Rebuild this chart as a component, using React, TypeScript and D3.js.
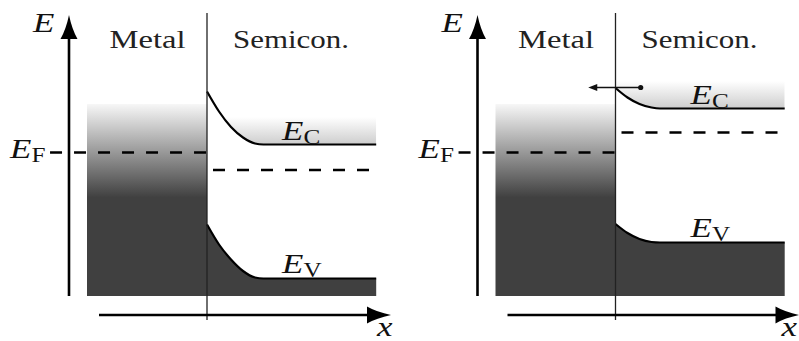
import React from "react";
import * as d3 from "d3";

const W = 799;
const H = 341;

// Text
const regionNames = ["Metal", "Semicon."];
const energySymbol = "E";
const positionSymbol = "x";
const fermiLabel = ["E", "F"];
const conductionLabel = ["E", "C"];
const valenceLabel = ["E", "V"];

// Energies in eV relative to the metal Fermi level; positions in units of the metal width.
const metalFermi = 0;
const metalTop = 0.97;
const metalDarkFrom = -0.9;
const bandFloor = -2.87;
const semiconEnd = 1.41;
const conductionGlow = 0.55;

// Left diagram: strong upward band bending
const ecLeft: [number, number][] = [
  [0, 1.22], [0.1, 0.82], [0.2, 0.51], [0.3, 0.3], [0.4, 0.18], [0.47, 0.16], [1.41, 0.16],
];
const evLeft: [number, number][] = [
  [0, -1.44], [0.1, -1.84], [0.2, -2.14], [0.3, -2.37], [0.4, -2.5], [0.47, -2.52], [1.41, -2.52],
];
const efSemiLeft = -0.35;

// Right diagram: weak band bending, electron crossing into the metal
const ecRight: [number, number][] = [
  [0, 1.29], [0.1, 1.1], [0.2, 0.97], [0.3, 0.9], [0.37, 0.88], [1.41, 0.88],
];
const evRight: [number, number][] = [
  [0, -1.43], [0.1, -1.61], [0.2, -1.73], [0.3, -1.79], [0.37, -1.8], [1.41, -1.8],
];
const efSemiRight = 0.4;
const electronRight = { from: 0.21, to: -0.227, energy: 1.3 };

const FONT = "'Liberation Serif', 'Times New Roman', serif";
const DARK = "#404040";

function MathLabel({ x, y, main, sub, size = 28 }: { x: number; y: number; main: string; sub?: string; size?: number }) {
  return (
    <g transform={`translate(${x},${y}) scale(1.25,1)`}>
      <text fontFamily={FONT} fontSize={size} fill="#111">
        <tspan fontStyle="italic">{main}</tspan>
        {sub ? (
          <tspan fontSize={size * 0.72} dy={4}>
            {sub}
          </tspan>
        ) : null}
      </text>
    </g>
  );
}

function Panel({
  id,
  ix,
  ec,
  ev,
  efSemi,
  electron,
  xLabelOffset,
}: {
  id: string;
  ix: number;
  ec: [number, number][];
  ev: [number, number][];
  efSemi: number;
  electron?: { from: number; to: number; energy: number };
  xLabelOffset: number;
}) {
  const x = d3.scaleLinear().domain([0, 1]).range([ix, ix + 120]);
  const y = d3.scaleLinear().domain([0, 1]).range([152.5, 102.5]);

  const line = d3
    .line<[number, number]>()
    .x((d) => x(d[0]))
    .y((d) => y(d[1]))
    .curve(d3.curveMonotoneX);
  const valenceArea = d3
    .area<[number, number]>()
    .x((d) => x(d[0]))
    .y0(y(bandFloor))
    .y1((d) => y(d[1]))
    .curve(d3.curveMonotoneX);
  const aboveConduction = d3
    .area<[number, number]>()
    .x((d) => x(d[0]))
    .y0(0)
    .y1((d) => y(d[1]))
    .curve(d3.curveMonotoneX);

  const ecBulk = ec[ec.length - 1][1];
  const evBulk = ev[ev.length - 1][1];

  const axisX = ix - 138;
  const axisBottom = y(bandFloor);
  const axisTip = 15;
  const xAxisY = 315;
  const xAxisStart = ix - 108;
  const xAxisTip = ix + 184;
  const headLen = 24;
  const headHalf = 8.5;

  const upHead = `M${axisX},${axisTip} Q${axisX + 3},${axisTip + headLen * 0.6} ${axisX + headHalf},${axisTip + headLen} L${axisX - headHalf},${axisTip + headLen} Q${axisX - 3},${axisTip + headLen * 0.6} ${axisX},${axisTip} Z`;
  const rightHead = `M${xAxisTip},${xAxisY} Q${xAxisTip - headLen * 0.6},${xAxisY + 3} ${xAxisTip - headLen},${xAxisY + headHalf} L${xAxisTip - headLen},${xAxisY - headHalf} Q${xAxisTip - headLen * 0.6},${xAxisY - 3} ${xAxisTip},${xAxisY} Z`;

  return (
    <g>
      <defs>
        <linearGradient id={`metal-${id}`} gradientUnits="userSpaceOnUse" x1={0} x2={0} y1={y(metalTop)} y2={y(metalDarkFrom)}>
          <stop offset="0" stopColor="#f7f7f7" />
          <stop offset="1" stopColor={DARK} />
        </linearGradient>
        <linearGradient id={`cb-${id}`} gradientUnits="userSpaceOnUse" x1={0} x2={0} y1={y(ecBulk + conductionGlow)} y2={y(ecBulk)}>
          <stop offset="0" stopColor="#ffffff" />
          <stop offset="1" stopColor="#cdcdcd" />
        </linearGradient>
        <clipPath id={`above-${id}`}>
          <path d={aboveConduction(ec) || ""} />
        </clipPath>
      </defs>

      {/* metal electron sea */}
      <rect
        x={x(-1)}
        y={y(metalTop)}
        width={x(0) - x(-1)}
        height={y(bandFloor) - y(metalTop)}
        fill={`url(#metal-${id})`}
      />

      {/* conduction band shading */}
      <rect
        x={x(0)}
        y={y(ecBulk + conductionGlow)}
        width={x(semiconEnd) - x(0)}
        height={y(ecBulk) - y(ecBulk + conductionGlow)}
        fill={`url(#cb-${id})`}
        clipPath={`url(#above-${id})`}
      />

      {/* valence band */}
      <path d={valenceArea(ev) || ""} fill={DARK} />
      <path d={line(ev) || ""} fill="none" stroke="#000" strokeWidth={2.2} />
      <path d={line(ec) || ""} fill="none" stroke="#000" strokeWidth={2.2} />

      {/* Fermi levels */}
      <line x1={x(-1.308)} x2={x(0)} y1={y(metalFermi)} y2={y(metalFermi)} stroke="#000" strokeWidth={2.6} strokeDasharray="12 12" />
      <line x1={x(0.05)} x2={x(1.37)} y1={y(efSemi)} y2={y(efSemi)} stroke="#000" strokeWidth={2.6} strokeDasharray="12 12" />

      {/* interface */}
      <line x1={ix} x2={ix} y1={13} y2={320} stroke="#222" strokeWidth={1.3} />

      {/* energy axis */}
      <line x1={axisX} x2={axisX} y1={axisBottom} y2={axisTip + headLen - 2} stroke="#000" strokeWidth={2.6} />
      <path d={upHead} fill="#000" />
      {/* position axis */}
      <line x1={xAxisStart} x2={xAxisTip - headLen + 2} y1={xAxisY} y2={xAxisY} stroke="#000" strokeWidth={2.6} />
      <path d={rightHead} fill="#000" />

      {electron ? (
        <g>
          <line x1={x(electron.from)} x2={x(electron.to) + 6} y1={y(electron.energy)} y2={y(electron.energy)} stroke="#111" strokeWidth={1.4} />
          <path
            d={`M${x(electron.to)},${y(electron.energy)} L${x(electron.to) + 9},${y(electron.energy) - 3.5} L${x(electron.to) + 9},${y(electron.energy) + 3.5} Z`}
            fill="#111"
          />
          <circle cx={x(electron.from)} cy={y(electron.energy)} r={2.6} fill="#111" />
        </g>
      ) : null}

      {/* text */}
      <text x={ix - 59.5} y={48} textAnchor="middle" fontFamily={FONT} fontSize={26} fill="#222" textLength={76} lengthAdjust="spacingAndGlyphs">
        {regionNames[0]}
      </text>
      <text x={ix + 26} y={48} fontFamily={FONT} fontSize={26} fill="#222" textLength={116} lengthAdjust="spacingAndGlyphs">
        {regionNames[1]}
      </text>
      <MathLabel x={ix - 174} y={32} main={energySymbol} />
      <MathLabel x={ix - 197} y={158} main={fermiLabel[0]} sub={fermiLabel[1]} />
      <MathLabel x={ix + 75} y={y(ecBulk) - 5} main={conductionLabel[0]} sub={conductionLabel[1]} />
      <MathLabel x={ix + 75} y={y(evBulk) - 6} main={valenceLabel[0]} sub={valenceLabel[1]} />
      <MathLabel x={ix + xLabelOffset} y={336} main={positionSymbol} />
    </g>
  );
}

export default function App() {
  return (
    <svg
      width={W}
      height={H}
      viewBox={`0 0 ${W} ${H}`}
      style={{ position: "absolute", left: 0, top: 0, background: "#fff" }}
    >
      <rect width={W} height={H} fill="#fff" />
      <Panel id="a" ix={207} ec={ecLeft} ev={evLeft} efSemi={efSemiLeft} xLabelOffset={170} />
      <Panel id="b" ix={615.5} ec={ecRight} ev={evRight} efSemi={efSemiRight} electron={electronRight} xLabelOffset={166} />
    </svg>
  );
}
